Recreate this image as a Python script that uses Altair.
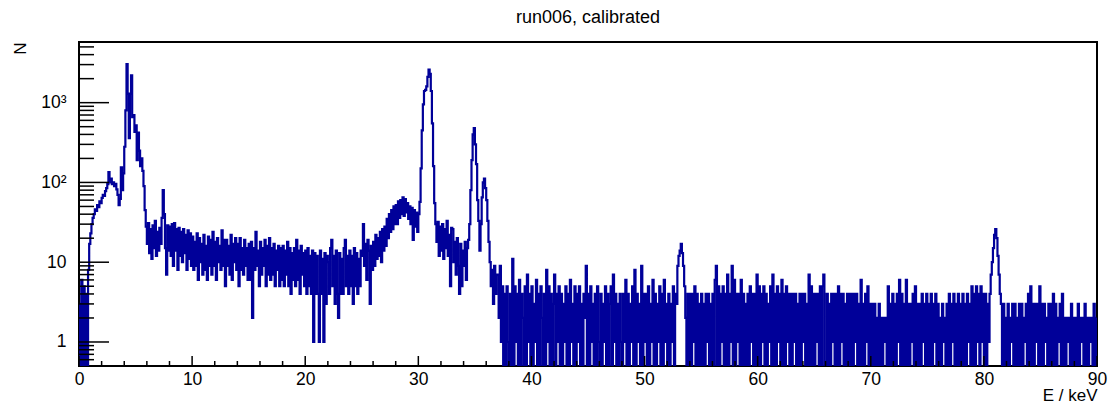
import altair as alt
import pandas as pd

# ---------------- data: counts per 0.1 keV bin ----------------
BIN_WIDTH = 0.1  # keV

counts_00_10 = [
    3, 0, 6, 0, 5, 0, 4, 0, 8, 17,
    23, 30, 36, 40, 46, 44, 52, 49, 58, 55,
    64, 70, 68, 78, 85, 95, 135, 100, 112, 95,
    100, 90, 96, 82, 70, 52, 62, 155, 80, 130,
    280, 800, 3050, 1300, 360, 1300, 2200, 660, 700, 430,
    520, 190, 420, 250, 160, 200, 140, 90, 45, 28,
    17, 31, 13, 26, 11, 29, 15, 33, 12, 24,
    14, 27, 17, 36, 80, 40, 15, 7, 29, 14,
    28, 12, 30, 9, 31, 14, 26, 8, 27, 12,
    24, 10, 26, 13, 22, 8, 25, 11, 23, 9,
]
counts_10_20 = [
    21, 8, 18, 9, 23, 6, 20, 10, 17, 7,
    22, 8, 16, 6, 21, 9, 19, 7, 24, 9,
    18, 6, 20, 10, 16, 8, 25, 9, 19, 5,
    19, 9, 16, 7, 22, 6, 17, 10, 20, 8,
    17, 5, 20, 8, 15, 7, 19, 9, 15, 6,
    17, 6, 18, 2, 15, 8, 24, 9, 14, 5,
    18, 7, 15, 9, 19, 5, 16, 7, 20, 6,
    15, 7, 17, 5, 14, 8, 16, 5, 15, 6,
    16, 5, 14, 7, 18, 5, 15, 4, 13, 6,
    15, 5, 19, 6, 14, 4, 16, 7, 13, 5,
]
counts_20_30 = [
    14, 4, 15, 5, 12, 4, 14, 1, 13, 4,
    12, 4, 1, 14, 4, 11, 1, 13, 3, 12,
    10, 4, 15, 19, 5, 12, 3, 14, 4, 2,
    13, 4, 11, 4, 15, 19, 5, 12, 4, 14,
    5, 12, 3, 15, 5, 13, 4, 11, 5, 14,
    12, 30, 9, 17, 6, 19, 14, 3, 16, 8,
    18, 9, 22, 11, 20, 12, 24, 10, 26, 14,
    28, 16, 35, 20, 40, 24, 45, 26, 50, 30,
    52, 30, 58, 36, 60, 40, 65, 38, 62, 42,
    55, 35, 50, 30, 48, 19, 45, 28, 42, 24,
]
counts_30_40 = [
    40, 57, 150, 450, 950, 1400, 1450, 1600, 2100, 2600,
    2300, 1400, 550, 160, 55, 30, 18, 32, 12, 28,
    14, 30, 11, 26, 15, 33, 12, 22, 5, 27,
    26, 10, 18, 7, 20, 9, 4, 17, 5, 14,
    9, 18, 6, 15, 19, 30, 80, 190, 400, 480,
    300, 170, 60, 33, 14, 30, 65, 100, 112, 85,
    60, 33, 18, 10, 5, 8, 3, 9, 4, 7,
    7, 2, 9, 1, 5, 0, 4, 0, 5, 1,
    0, 4, 0, 11, 0, 5, 1, 4, 0, 6,
    0, 4, 2, 0, 5, 0, 7, 1, 4, 0,
]
counts_40_50 = [
    5, 0, 3, 1, 6, 0, 4, 0, 5, 2,
    0, 4, 0, 8, 1, 5, 0, 4, 0, 3,
    7, 0, 4, 1, 5, 0, 4, 0, 3, 1,
    5, 0, 4, 0, 6, 1, 3, 0, 5, 0,
    4, 1, 5, 0, 3, 0, 4, 2, 9, 0,
    4, 0, 5, 1, 3, 0, 4, 0, 5, 1,
    0, 4, 0, 3, 1, 5, 0, 4, 0, 3,
    5, 0, 7, 1, 4, 0, 3, 0, 4, 1,
    0, 4, 1, 6, 0, 4, 0, 3, 1, 5,
    0, 8, 0, 4, 1, 3, 0, 9, 0, 4,
]
counts_50_60 = [
    1, 4, 0, 5, 0, 3, 1, 6, 0, 4,
    0, 3, 1, 5, 0, 4, 0, 6, 1, 3,
    0, 4, 0, 3, 1, 5, 0, 4, 3, 9,
    12, 14, 17, 13, 9, 5, 2, 0, 4, 0,
    4, 0, 4, 1, 5, 0, 4, 0, 3, 0,
    4, 0, 3, 0, 4, 1, 4, 0, 3, 0,
    4, 0, 6, 9, 0, 5, 0, 4, 1, 5,
    0, 4, 0, 7, 0, 4, 1, 9, 0, 6,
    0, 4, 1, 4, 0, 6, 0, 4, 0, 3,
    0, 4, 0, 5, 1, 4, 0, 4, 0, 7,
]
counts_60_70 = [
    0, 5, 0, 4, 1, 5, 0, 4, 0, 3,
    1, 5, 0, 7, 0, 4, 0, 5, 1, 4,
    0, 6, 0, 4, 0, 5, 1, 4, 0, 4,
    0, 4, 1, 4, 0, 3, 0, 4, 0, 4,
    1, 4, 0, 3, 0, 7, 0, 5, 0, 4,
    0, 4, 1, 4, 0, 5, 0, 5, 7, 0,
    0, 4, 0, 3, 0, 4, 1, 4, 0, 4,
    0, 5, 0, 4, 1, 4, 0, 3, 0, 4,
    0, 4, 0, 4, 0, 4, 1, 4, 0, 3,
    0, 6, 0, 3, 0, 4, 1, 5, 0, 3,
]
counts_70_80 = [
    0, 3, 0, 3, 0, 2, 0, 3, 0, 2,
    0, 2, 1, 2, 0, 5, 0, 3, 0, 4,
    0, 3, 0, 4, 1, 6, 0, 4, 0, 3,
    0, 6, 0, 3, 0, 3, 1, 4, 0, 5,
    0, 3, 0, 3, 0, 4, 1, 3, 0, 4,
    0, 3, 0, 4, 0, 3, 1, 4, 0, 3,
    0, 2, 0, 3, 1, 2, 0, 3, 0, 4,
    0, 3, 1, 4, 0, 3, 0, 4, 0, 3,
    0, 4, 0, 3, 0, 4, 1, 3, 0, 5,
    0, 4, 0, 5, 1, 4, 0, 5, 1, 4,
]
counts_80_90 = [
    0, 4, 0, 3, 1, 4, 7, 10, 15, 22,
    26, 20, 12, 7, 4, 3, 0, 3, 0, 2,
    0, 3, 0, 2, 1, 3, 0, 3, 0, 2,
    0, 3, 0, 3, 0, 2, 1, 3, 0, 4,
    0, 5, 0, 3, 0, 3, 1, 3, 0, 5,
    0, 3, 0, 3, 1, 2, 0, 3, 0, 3,
    0, 4, 0, 3, 0, 2, 1, 3, 0, 4,
    0, 2, 0, 2, 1, 2, 0, 3, 0, 2,
    0, 2, 0, 3, 0, 2, 1, 2, 0, 3,
    0, 2, 0, 2, 1, 2, 0, 3, 0, 2,
]

# axis tick values / labels
x_major = [0, 10, 20, 30, 40, 50, 60, 70, 80, 90]
x_minor = [v for v in range(2, 90, 2) if v % 10 != 0]
y_major = [1, 10, 100, 1000]
y_major_text = ["1", "10", "10\u00b2\u2002", "10\u00b3\u2002"]
y_minor = [0.6, 0.7, 0.8, 0.9,
           2, 3, 4, 5, 6, 7, 8, 9,
           20, 30, 40, 50, 60, 70, 80, 90,
           200, 300, 400, 500, 600, 700, 800, 900,
           2000, 3000, 4000, 5000]

# ---------------- build table ----------------
counts = (counts_00_10 + counts_10_20 + counts_20_30 + counts_30_40 + counts_40_50
          + counts_50_60 + counts_60_70 + counts_70_80 + counts_80_90)
energy = [round((i + 0.5) * BIN_WIDTH, 3) for i in range(len(counts))]
hist_df = pd.DataFrame({"E": energy, "N": counts})

W, H = 1018, 324
FONT = "Liberation Sans"
BLUE = "#000099"

x_scale = alt.Scale(domain=[0, 90], nice=False, zero=False)
y_scale = alt.Scale(type="log", domain=[0.5, 5760], nice=False)

label_expr = ""
for v, t in zip(y_major[:-1], y_major_text[:-1]):
    label_expr += f"datum.value == {v} ? '{t}' : "
label_expr += f"'{y_major_text[-1]}'"

x_axis = alt.Axis(values=x_major, format="d", labelPadding=4,
                  title="E / keV", titleAlign="right", titleAnchor="end",
                  titleX=W, titleY=34, titleBaseline="alphabetic")
y_axis = alt.Axis(values=y_major, labelExpr=label_expr, labelPadding=13,
                  title="N", titleAngle=270, titleX=-54, titleY=0,
                  titleAlign="right", titleBaseline="alphabetic")

hist = alt.Chart(hist_df).transform_calculate(
    Nplot="max(datum.N, 0.3)"
).mark_line(interpolate="step", color=BLUE, strokeWidth=2.2, clip=True).encode(
    x=alt.X("E:Q", scale=x_scale, axis=x_axis),
    y=alt.Y("Nplot:Q", scale=y_scale, axis=y_axis),
)

ytick_major = alt.Chart(pd.DataFrame({"v": y_major})).mark_rule(
    color="black", strokeWidth=1.5).encode(
    y=alt.Y("v:Q", scale=y_scale, axis=y_axis), x=alt.value(0), x2=alt.value(30))
ytick_minor = alt.Chart(pd.DataFrame({"v": y_minor})).mark_rule(
    color="black", strokeWidth=1.5).encode(
    y=alt.Y("v:Q", scale=y_scale, axis=y_axis), x=alt.value(0), x2=alt.value(15))
xtick_major = alt.Chart(pd.DataFrame({"v": x_major})).mark_rule(
    color="black", strokeWidth=1.5).encode(
    x=alt.X("v:Q", scale=x_scale, axis=x_axis), y=alt.value(H), y2=alt.value(H - 10))
xtick_minor = alt.Chart(pd.DataFrame({"v": x_minor})).mark_rule(
    color="black", strokeWidth=1.5).encode(
    x=alt.X("v:Q", scale=x_scale, axis=x_axis), y=alt.value(H), y2=alt.value(H - 5))

chart = alt.layer(hist, ytick_major, ytick_minor, xtick_major, xtick_minor).properties(
    width=W, height=H,
    background="white",
    title=alt.TitleParams("run006, calibrated", fontSize=18, font=FONT,
                          fontWeight="normal", color="black", anchor="middle",
                          frame="group", baseline="alphabetic", offset=1),
    padding={"left": 79, "top": 42, "right": 11, "bottom": 37},
    autosize=alt.AutoSizeParams(type="none"),
).configure_view(
    stroke="black", strokeWidth=2
).configure_axis(
    labelFontSize=17.5, labelFont=FONT, labelColor="black", ticks=False, tickSize=0,
    grid=False, domain=False, labelFlush=False, labelOverlap=False,
    titleFontSize=17, titleFont=FONT, titleFontWeight="normal", titleColor="black",
)

chart.save("out.html", embed_options={"renderer": "svg", "actions": False})
